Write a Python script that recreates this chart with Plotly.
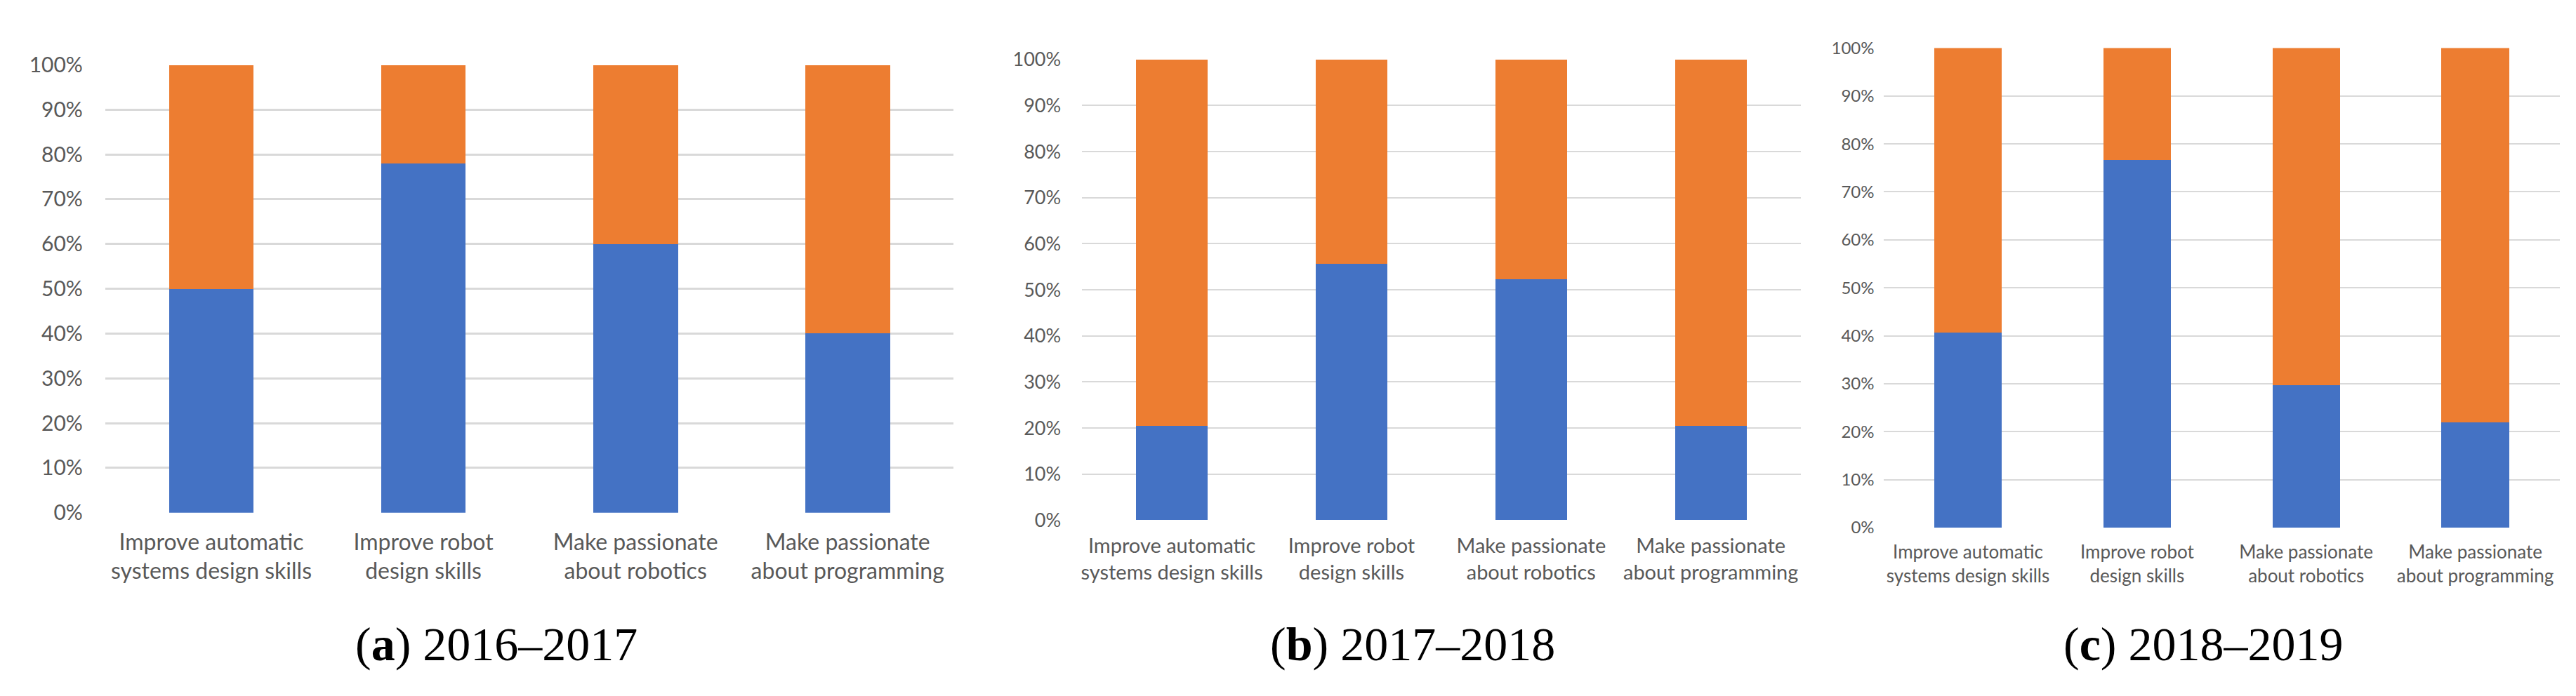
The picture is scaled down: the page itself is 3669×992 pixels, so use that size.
import plotly.graph_objects as go

W, H = 3669, 992

categories = [
    "Improve automatic<br>systems design skills",
    "Improve robot<br>design skills",
    "Make passionate<br>about robotics",
    "Make passionate<br>about programming",
]

# share of "yes" (blue) and "no" (orange) per panel, in %
blue_2016 = [50.0, 78.0, 60.0, 40.0]
orange_2016 = [50.0, 22.0, 40.0, 60.0]
blue_2017 = [20.5, 55.6, 52.3, 20.5]
orange_2017 = [79.5, 44.4, 47.7, 79.5]
blue_2018 = [40.7, 76.7, 29.7, 22.0]
orange_2018 = [59.3, 23.3, 70.3, 78.0]

captions = ["(<b>a</b>) 2016–2017", "(<b>b</b>) 2017–2018", "(<b>c</b>) 2018–2019"]

BLUE = "#4472C4"
ORANGE = "#ED7D31"
GRID = "#D9D9D9"
TXT = "#595959"
FONT = "Lato"

# pixel layout of each panel: (x0, x1, ytop, ybottom, ytick size, xtick size, ystandoff, xstandoff, gridwidth)
panels = [
    (140, 1349, 67, 730, 30, 32, 31, 20, 2.5),
    (1532, 2556, 59, 741, 27, 29, 29, 17, 2.0),
    (2674, 3638, 42, 752, 24, 26, 12, 17, 2.0),
]
series = [
    (blue_2016, orange_2016),
    (blue_2017, orange_2017),
    (blue_2018, orange_2018),
]
caption_x = [697, 2003, 3130]
caption_y = 924

fig = go.Figure()
layout = dict(
    width=W, height=H,
    margin=dict(l=0, r=0, t=0, b=0),
    paper_bgcolor="white", plot_bgcolor="white",
    barmode="stack", showlegend=False,
    font=dict(family=FONT, color=TXT),
)

for i, ((x0, x1, yt, yb, yfs, xfs, ystand, xstand, gw), (blue, orange)) in enumerate(zip(panels, series)):
    n = "" if i == 0 else str(i + 1)
    xa, ya = "x" + n, "y" + n
    fig.add_trace(go.Bar(x=categories, y=[v / 100 for v in blue], marker=dict(color=BLUE, line=dict(width=0)),
                         width=0.4, xaxis=xa, yaxis=ya, name="Yes"))
    fig.add_trace(go.Bar(x=categories, y=[v / 100 for v in orange], marker=dict(color=ORANGE, line=dict(width=0)),
                         width=0.4, xaxis=xa, yaxis=ya, name="No"))
    layout["xaxis" + n] = dict(
        domain=[x0 / W, x1 / W], anchor=ya, showgrid=False, showline=False, zeroline=False,
        ticks="", tickfont=dict(family=FONT, size=xfs, color=TXT), ticklabelstandoff=xstand,
        fixedrange=True,
    )
    layout["yaxis" + n] = dict(
        domain=[(H - yb) / H, (H - yt) / H], anchor=xa, range=[0, 1], dtick=0.1, tick0=0,
        tickformat=".0%", showgrid=True, gridcolor=GRID, gridwidth=gw, zeroline=False, showline=False,
        ticks="", tickfont=dict(family=FONT, size=yfs, color=TXT), ticklabelstandoff=ystand,
        fixedrange=True,
    )

fig.update_layout(**layout)

for cx, cap in zip(caption_x, captions):
    fig.add_annotation(x=cx / W, y=(H - caption_y) / H, xref="paper", yref="paper", text=cap,
                       showarrow=False, xanchor="center", yanchor="middle",
                       font=dict(family="Liberation Serif", size=68, color="black"))

fig.write_html("out.html")
